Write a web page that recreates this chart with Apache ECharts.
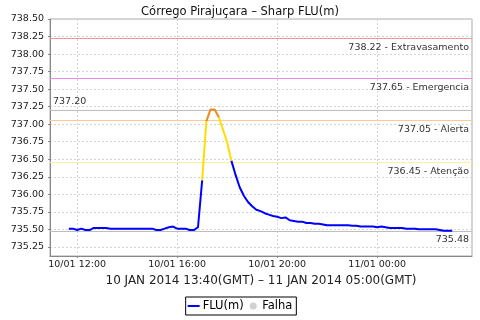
<!DOCTYPE html>
<html>
<head>
<meta charset="utf-8">
<script src="https://cdn.jsdelivr.net/npm/echarts@6/dist/echarts.min.js"></script>
<style>html,body{margin:0;padding:0;background:#fff}#c{width:480px;height:320px}</style>
</head>
<body>
<div id="c"></div>
<script>
// ---- data ----
const titleText = 'Córrego Pirajuçara – Sharp FLU(m)';
const axisTitle = '10 JAN 2014 13:40(GMT) – 11 JAN 2014 05:00(GMT)';
const startHour = 11 + 40 / 60;   // 10/01 11:40 (local)
const stepMinutes = 10;
const fluValues = [
  735.51, 735.51, 735.49, 735.51, 735.49, 735.49, 735.52, 735.52, 735.52, 735.52,
  735.51, 735.51, 735.51, 735.51, 735.51, 735.51, 735.51, 735.51, 735.51, 735.51,
  735.51, 735.49, 735.49, 735.51, 735.53, 735.54, 735.51, 735.51, 735.51, 735.49,
  735.49, 735.53, 736.20, 737.04, 737.21, 737.21, 737.10, 736.92, 736.74, 736.48,
  736.28, 736.10, 735.98, 735.89, 735.83, 735.78, 735.76, 735.73, 735.71, 735.69,
  735.68, 735.66, 735.67, 735.63, 735.62, 735.61, 735.61, 735.59, 735.59, 735.58,
  735.58, 735.57, 735.56, 735.56, 735.56, 735.56, 735.56, 735.56, 735.55, 735.55,
  735.54, 735.54, 735.54, 735.54, 735.53, 735.54, 735.53, 735.52, 735.52, 735.52,
  735.52, 735.51, 735.51, 735.51, 735.50, 735.50, 735.50, 735.50, 735.50, 735.49,
  735.48, 735.48, 735.48
];
const levelValues = [738.22, 737.65, 737.05, 736.45];
const levelNames = ['Extravasamento', 'Emergencia', 'Alerta', 'Atenção'];
const levelColors = ['#f29494', '#ec8aec', '#ffc896', '#fff0a0'];
const maxLineValue = 737.20;
const lastLineValue = 735.48;
const xTickHours = [12, 16, 20, 24];
const yMin = 735.12, yMax = 738.5, yStep = 0.25;
const xMin = 10.915, xMax = 27.79;

// ---- build ----
const pts = fluValues.map((v, i) => [startHour + i * stepMinutes / 60, v]);
function segColor(v) {
  if (v >= levelValues[2]) return 'orange';
  if (v >= levelValues[3]) return 'yellow';
  return 'blue';
}
const segSeries = { blue: [], yellow: [], orange: [] };
Object.keys(segSeries).forEach(k => { segSeries[k] = pts.map(() => null); });
for (let i = 0; i < pts.length - 1; i++) {
  const c = segColor(pts[i + 1][1]);
  segSeries[c][i] = pts[i];
  segSeries[c][i + 1] = pts[i + 1];
}
const toData = arr => arr.map((p, i) => p ? p : [pts[i][0], null]);

const F = 'DejaVu Sans';
const markData = levelValues.map((v, i) => ({
  yAxis: v,
  lineStyle: { color: levelColors[i], width: 1, type: 'solid' },
  label: { formatter: v.toFixed(2) + ' - ' + levelNames[i], position: 'insideEndBottom' }
}));
markData.push({ yAxis: maxLineValue, lineStyle: { color: '#bdbdbd', width: 1, type: 'solid' },
  label: { formatter: maxLineValue.toFixed(2), position: 'insideStartTop' } });
markData.push({ yAxis: lastLineValue, lineStyle: { color: '#bdbdbd', width: 1, type: 'solid' },
  label: { formatter: lastLineValue.toFixed(2), position: 'insideEndBottom' } });

function fmtX(h) {
  const day = h >= 24 ? '11/01' : '10/01';
  const hh = Math.round(h) % 24;
  return day + ' ' + String(hh).padStart(2, '0') + ':00';
}

const lineIcon = 'path://M0,0h0.01v0.01h-0.01z M0,2.5h12v2h-12z M0,7h0.01v0.01h-0.01z';

const chart = echarts.init(document.getElementById('c'), null, { renderer: 'canvas' });
chart.setOption({
  animation: false,
  backgroundColor: '#fff',
  title: { text: titleText, left: 'center', top: 1,
    textStyle: { fontFamily: F, fontSize: 11.5, fontWeight: 'normal', color: '#111' } },
  grid: { left: 50, right: 8, top: 19, bottom: 64, show: true, borderColor: '#aaa', borderWidth: 1 },
  legend: {
    data: [{ name: 'FLU(m)', icon: lineIcon, itemStyle: { color: '#0000ff' } },
           { name: 'Falha', icon: 'circle' }],
    left: 'center', top: 297, padding: [3, 4, 3, 2],
    borderColor: '#000', borderWidth: 1, borderRadius: 0,
    itemWidth: 12, itemHeight: 7, itemGap: 6,
    textStyle: { fontFamily: F, fontSize: 11.5, color: '#000', padding: [0, 0, 0, -2] }
  },
  xAxis: {
    type: 'value', min: xMin, max: xMax, minInterval: 4, maxInterval: 4, splitNumber: 4,
    name: axisTitle, nameLocation: 'middle', nameGap: 18,
    nameTextStyle: { fontFamily: F, fontSize: 12, color: '#222' },
    axisLine: { lineStyle: { color: '#888', width: 1 } },
    axisTick: { show: true, length: 2, lineStyle: { color: '#888' } },
    axisLabel: { fontFamily: F, fontSize: 9.5, color: '#222', margin: 4,
      showMinLabel: false, showMaxLabel: false,
      formatter: v => xTickHours.includes(Math.round(v * 1000) / 1000) ? fmtX(v) : '' },
    splitLine: { show: true, lineStyle: { color: '#d4d4d4', type: [2, 2], width: 1 } }
  },
  yAxis: {
    type: 'value', min: yMin, max: yMax, minInterval: yStep, maxInterval: yStep, splitNumber: 15,
    axisLine: { show: true, lineStyle: { color: '#888', width: 1 } },
    axisTick: { show: true, length: 2, lineStyle: { color: '#888' } },
    axisLabel: { fontFamily: F, fontSize: 9.5, color: '#222', margin: 6, showMinLabel: false,
      formatter: v => v.toFixed(2) },
    splitLine: { show: true, lineStyle: { color: '#d4d4d4', type: [2, 2], width: 1 } }
  },
  series: [
    { name: 'Falha', type: 'scatter', data: [], itemStyle: { color: '#c4c4c4' }, symbolSize: 7 },
    { name: 'FLU(m)', type: 'line', data: toData(segSeries.blue), showSymbol: false, symbol: 'none',
      connectNulls: false, lineStyle: { color: '#0000ff', width: 2 }, itemStyle: { color: '#0000ff' },
      z: 3,
      markLine: { silent: true, symbol: 'none', animation: false, precision: 2,
        label: { fontFamily: F, fontSize: 9.5, color: '#333', distance: [3, 4] },
        data: markData, z: 1 } },
    { name: 'FLU-yellow', type: 'line', data: toData(segSeries.yellow), showSymbol: false, symbol: 'none',
      connectNulls: false, lineStyle: { color: '#ffdd00', width: 2 }, z: 3 },
    { name: 'FLU-orange', type: 'line', data: toData(segSeries.orange), showSymbol: false, symbol: 'none',
      connectNulls: false, lineStyle: { color: '#f08a1c', width: 2 }, z: 3 }
  ]
});
</script>
</body>
</html>
